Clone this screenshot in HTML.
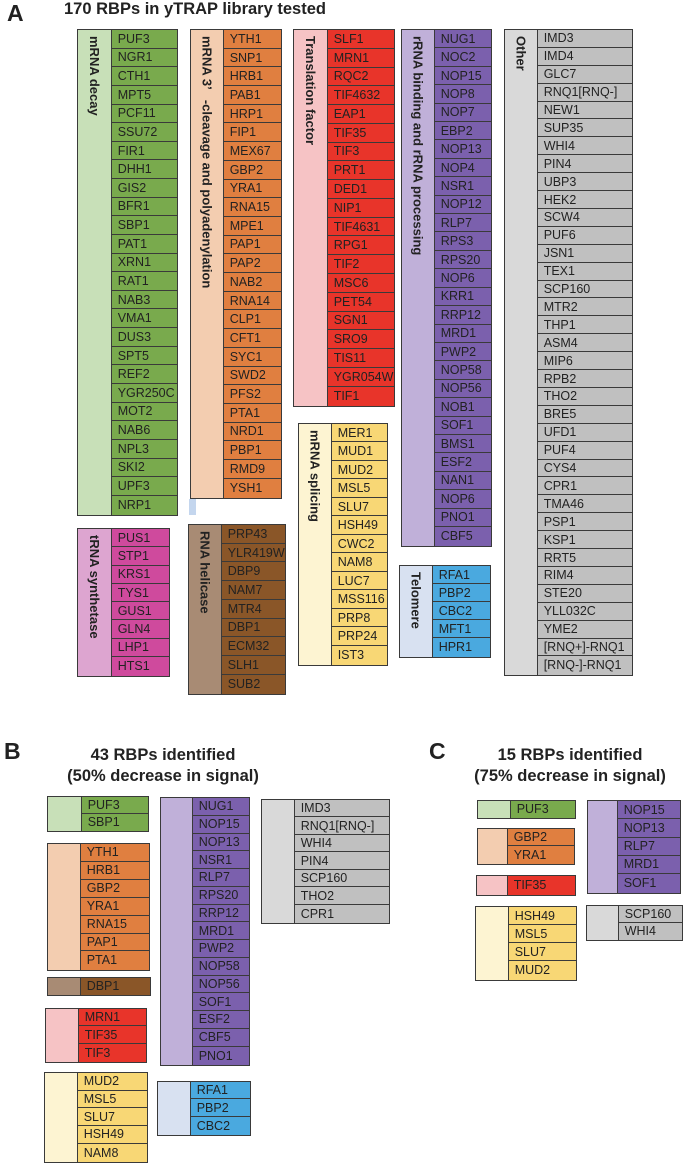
<!DOCTYPE html>
<html><head><meta charset="utf-8">
<style>
body{margin:0;width:684px;height:1164px;background:#fff;position:relative;overflow:hidden;font-family:"Liberation Sans",Arial,sans-serif;}
.t{position:absolute;font-weight:bold;color:#222;white-space:nowrap;}
.grp{position:absolute;border:1.3px solid #3a3a3a;box-sizing:border-box;}
.lab{position:absolute;left:0;top:0;bottom:0;border-right:1.3px solid #3a3a3a;box-sizing:border-box;}
.lab span{position:absolute;top:6px;left:50%;transform:translateX(-50%);writing-mode:vertical-rl;font-weight:bold;font-size:13px;color:#222;white-space:pre;}
.row{position:absolute;right:0;box-sizing:border-box;border-bottom:1.2px solid #3a3a3a;font-size:12.5px;color:#222;padding-left:7px;display:flex;align-items:center;white-space:nowrap;}
.row:last-child{border-bottom:none;}
</style></head><body>
<div class="t" style="left:7px;top:0px;font-size:23px">A</div>
<div class="t" style="left:64px;top:0px;font-size:16.5px">170 RBPs in yTRAP library tested</div>
<div class="t" style="left:4px;top:738px;font-size:23px">B</div>
<div class="t" style="left:58px;top:745px;width:210px;text-align:center;font-size:16.5px;line-height:21px">43 RBPs identified<br>(50% decrease in signal)</div>
<div class="t" style="left:429px;top:738px;font-size:23px">C</div>
<div class="t" style="left:465px;top:745px;width:210px;text-align:center;font-size:16.5px;line-height:21px">15 RBPs identified<br>(75% decrease in signal)</div>
<div style="position:absolute;left:189px;top:499px;width:7px;height:16px;background:#c4d6ee"></div>
<script>
const C={
 green:['#c8e0b8','#79aa4d'],orange:['#f3cdb0','#e07f40'],red:['#f6c3c5','#e8342a'],
 purple:['#c0b0d9','#7b60ad'],grey:['#d9d9d9','#c0c0c0'],pink:['#dda5d0','#cf4a9d'],
 brown:['#a88b74','#8a5628'],yellow:['#fdf4d2','#f8d775'],blue:['#d8e1f1','#4aa9df']
};
const decay=['PUF3','NGR1','CTH1','MPT5','PCF11','SSU72','FIR1','DHH1','GIS2','BFR1','SBP1','PAT1','XRN1','RAT1','NAB3','VMA1','DUS3','SPT5','REF2','YGR250C','MOT2','NAB6','NPL3','SKI2','UPF3','NRP1'];
const cleave=['YTH1','SNP1','HRB1','PAB1','HRP1','FIP1','MEX67','GBP2','YRA1','RNA15','MPE1','PAP1','PAP2','NAB2','RNA14','CLP1','CFT1','SYC1','SWD2','PFS2','PTA1','NRD1','PBP1','RMD9','YSH1'];
const transl=['SLF1','MRN1','RQC2','TIF4632','EAP1','TIF35','TIF3','PRT1','DED1','NIP1','TIF4631','RPG1','TIF2','MSC6','PET54','SGN1','SRO9','TIS11','YGR054W','TIF1'];
const rrna=['NUG1','NOC2','NOP15','NOP8','NOP7','EBP2','NOP13','NOP4','NSR1','NOP12','RLP7','RPS3','RPS20','NOP6','KRR1','RRP12','MRD1','PWP2','NOP58','NOP56','NOB1','SOF1','BMS1','ESF2','NAN1','NOP6','PNO1','CBF5'];
const other=['IMD3','IMD4','GLC7','RNQ1[RNQ-]','NEW1','SUP35','WHI4','PIN4','UBP3','HEK2','SCW4','PUF6','JSN1','TEX1','SCP160','MTR2','THP1','ASM4','MIP6','RPB2','THO2','BRE5','UFD1','PUF4','CYS4','CPR1','TMA46','PSP1','KSP1','RRT5','RIM4','STE20','YLL032C','YME2','[RNQ+]-RNQ1','[RNQ-]-RNQ1'];
const trna=['PUS1','STP1','KRS1','TYS1','GUS1','GLN4','LHP1','HTS1'];
const helic=['PRP43','YLR419W','DBP9','NAM7','MTR4','DBP1','ECM32','SLH1','SUB2'];
const splic=['MER1','MUD1','MUD2','MSL5','SLU7','HSH49','CWC2','NAM8','LUC7','MSS116','PRP8','PRP24','IST3'];
const telo=['RFA1','PBP2','CBC2','MFT1','HPR1'];
const groups=[
 ['mrna-decay','mRNA decay','green',decay,77,29,111,178,516],
 ['mrna-cleavage','mRNA 3’   -cleavage and polyadenylation','orange',cleave,190,29,223,282,499],
 ['translation-factor','Translation factor','red',transl,293,29,327,395,407],
 ['rrna-processing','rRNA binding and rRNA processing','purple',rrna,401,29,434,492,547],
 ['other','Other','grey',other,504,29,537,633,676],
 ['trna-synthetase','tRNA synthetase','pink',trna,77,528,111,170,677],
 ['rna-helicase','RNA helicase','brown',helic,188,524,221,286,695],
 ['mrna-splicing','mRNA splicing','yellow',splic,298,423,331,388,666],
 ['telomere','Telomere','blue',telo,399,565,432,491,658],
 ['b-decay','','green',['PUF3','SBP1'],47,796,81,149,832],
 ['b-cleavage','','orange',['YTH1','HRB1','GBP2','YRA1','RNA15','PAP1','PTA1'],47,843,80,150,971],
 ['b-rrna','','purple',['NUG1','NOP15','NOP13','NSR1','RLP7','RPS20','RRP12','MRD1','PWP2','NOP58','NOP56','SOF1','ESF2','CBF5','PNO1'],160,797,192,250,1066],
 ['b-other','','grey',['IMD3','RNQ1[RNQ-]','WHI4','PIN4','SCP160','THO2','CPR1'],261,799,294,390,924],
 ['b-helicase','','brown',['DBP1'],47,977,80,151,996],
 ['b-translation','','red',['MRN1','TIF35','TIF3'],45,1008,78,147,1063],
 ['b-splicing','','yellow',['MUD2','MSL5','SLU7','HSH49','NAM8'],44,1072,77,148,1163],
 ['b-telomere','','blue',['RFA1','PBP2','CBC2'],157,1081,190,251,1136],
 ['c-decay','','green',['PUF3'],477,800,510,576,819],
 ['c-cleavage','','orange',['GBP2','YRA1'],477,828,507,575,865],
 ['c-translation','','red',['TIF35'],476,875,507,576,896],
 ['c-splicing','','yellow',['HSH49','MSL5','SLU7','MUD2'],475,906,508,577,981],
 ['c-rrna','','purple',['NOP15','NOP13','RLP7','MRD1','SOF1'],587,800,617,681,894],
 ['c-other','','grey',['SCP160','WHI4'],586,905,618,683,941]
];
groups.forEach(g=>{
 const [name,label,col,items,x,y,lx,rx,by]=g;
 const d=document.createElement('div');
 d.className='grp';
 
 
 d.style.cssText=`left:${x}px;top:${y}px;width:${rx-x}px;height:${by-y}px;background:${C[col][1]}`;
 const l=document.createElement('div');
 l.className='lab';
 
 
 l.style.width=(lx-x)+'px';l.style.background=C[col][0];
 if(label){const s=document.createElement('span');s.textContent=label;l.appendChild(s);}
 d.appendChild(l);
 const inner=by-y-2.6, rh=inner/items.length;
 items.forEach((t,i)=>{
  const r=document.createElement('div');
  r.className='row';
  
  
  r.style.cssText=`left:${lx-x-1.3}px;top:${i*rh}px;height:${rh}px`;
  r.textContent=t;
  d.appendChild(r);
 });
 document.body.appendChild(d);
});
</script>
</body></html>
